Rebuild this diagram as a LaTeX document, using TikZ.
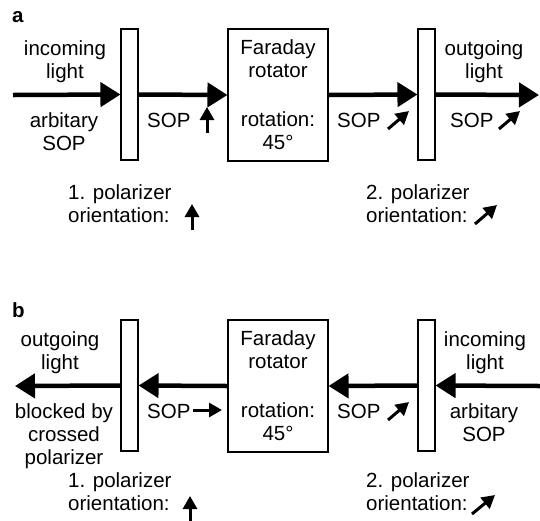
\documentclass[tikz,border=0pt]{standalone}
\usepackage{fontspec}
\setmainfont{Liberation Sans}
\usetikzlibrary{arrows.meta}

\tikzset{
  beam/.style={line width=4.5pt, -{Triangle[length=20pt,width=24pt]}},
  sopsym/.style={line width=3pt, -{Triangle[length=13pt,width=14pt]}},
  lbl/.style={inner sep=0pt, align=center, font=\fontsize{20.5}{23}\selectfont},
  polbox/.style={draw, line width=1.1pt, minimum width=17pt, minimum height=131pt, inner sep=0pt},
  frbox/.style={draw, line width=1.1pt, minimum width=100pt, minimum height=132pt, inner sep=0pt,
    align=center, font=\fontsize{20.5}{23}\selectfont},
  panel/.style={inner sep=0pt, font=\fontsize{20.5}{23}\selectfont\bfseries}
}

\begin{document}
\begin{tikzpicture}[x=1pt, y=-1pt]
\useasboundingbox (0,0) rectangle (540,520);

% ---------- panel a: forward direction ----------
\node[panel, anchor=base west] (la) at (12,22) {a};

\node[polbox] (p1a) at (129.5,94.5) {};
\node[frbox]  (fra) at (278,95) {Faraday\\rotator\\[26pt]rotation:\\45°};
\node[polbox] (p2a) at (426.5,94.5) {};

\coordinate (srcA) at (13,95);
\coordinate (dstA) at (539,95);

\draw[beam] (srcA) -- (p1a.west);
\draw[beam] (p1a.east) -- (fra.west);
\draw[beam] (fra.east) -- (p2a.west);
\draw[beam] (p2a.east) -- (dstA);

\node[lbl, anchor=base] (inA)  at (65,78)  {incoming\\light};
\node[lbl, anchor=base] (arbA) at (64,150) {arbitary\\SOP};
\node[lbl, anchor=base west] (sopA1) at (147,127) {SOP};
\node[lbl, anchor=base west] (sopA2) at (337,127) {SOP};
\node[lbl, anchor=base] (outA) at (484,78) {outgoing\\light};
\node[lbl, anchor=base west] (sopA3) at (450,127) {SOP};
\node[lbl, anchor=base west, align=left] (orA1) at (68,222) {1. polarizer\\orientation:};
\node[lbl, anchor=base west, align=left] (orA2) at (366,222) {2. polarizer\\orientation:};

% polarization state symbols
\draw[sopsym] (207,133) -- (207,107);
\draw[sopsym] (388,129) -- (409,111);
\draw[sopsym] (499,129) -- (520,111);
\draw[sopsym] (192,230) -- (192,204);
\draw[sopsym] (475,224) -- (497,205);

% ---------- panel b: backward direction ----------
\node[panel, anchor=base west] (lb) at (12,317) {b};

\node[polbox] (p1b) at (129.5,385.5) {};
\node[frbox]  (frb) at (278,386) {Faraday\\rotator\\[26pt]rotation:\\45°};
\node[polbox] (p2b) at (426.5,385.5) {};

\coordinate (srcB) at (540,386);
\coordinate (dstB) at (15,386);

\draw[beam] (srcB) -- (p2b.east);
\draw[beam] (p2b.west) -- (frb.east);
\draw[beam] (frb.west) -- (p1b.east);
\draw[beam] (p1b.west) -- (dstB);

\node[lbl, anchor=base] (outB) at (60,369)  {outgoing\\light};
\node[lbl, anchor=base] (blkB) at (64,464)  {blocked by\\crossed\\polarizer};
\node[lbl, anchor=base west] (sopB1) at (147,418) {SOP};
\node[lbl, anchor=base west] (sopB2) at (337,418) {SOP};
\node[lbl, anchor=base] (inB)  at (485,369) {incoming\\light};
\node[lbl, anchor=base] (arbB) at (484,441) {arbitary\\SOP};
\node[lbl, anchor=base west, align=left] (orB1) at (68,510) {1. polarizer\\orientation:};
\node[lbl, anchor=base west, align=left] (orB2) at (366,510) {2. polarizer\\orientation:};

\draw[sopsym] (193,410) -- (222,410);
\draw[sopsym] (388,420) -- (409,402);
\draw[sopsym] (190,522) -- (190,496);
\draw[sopsym] (472,514) -- (495,495);
\end{tikzpicture}
\end{document}
